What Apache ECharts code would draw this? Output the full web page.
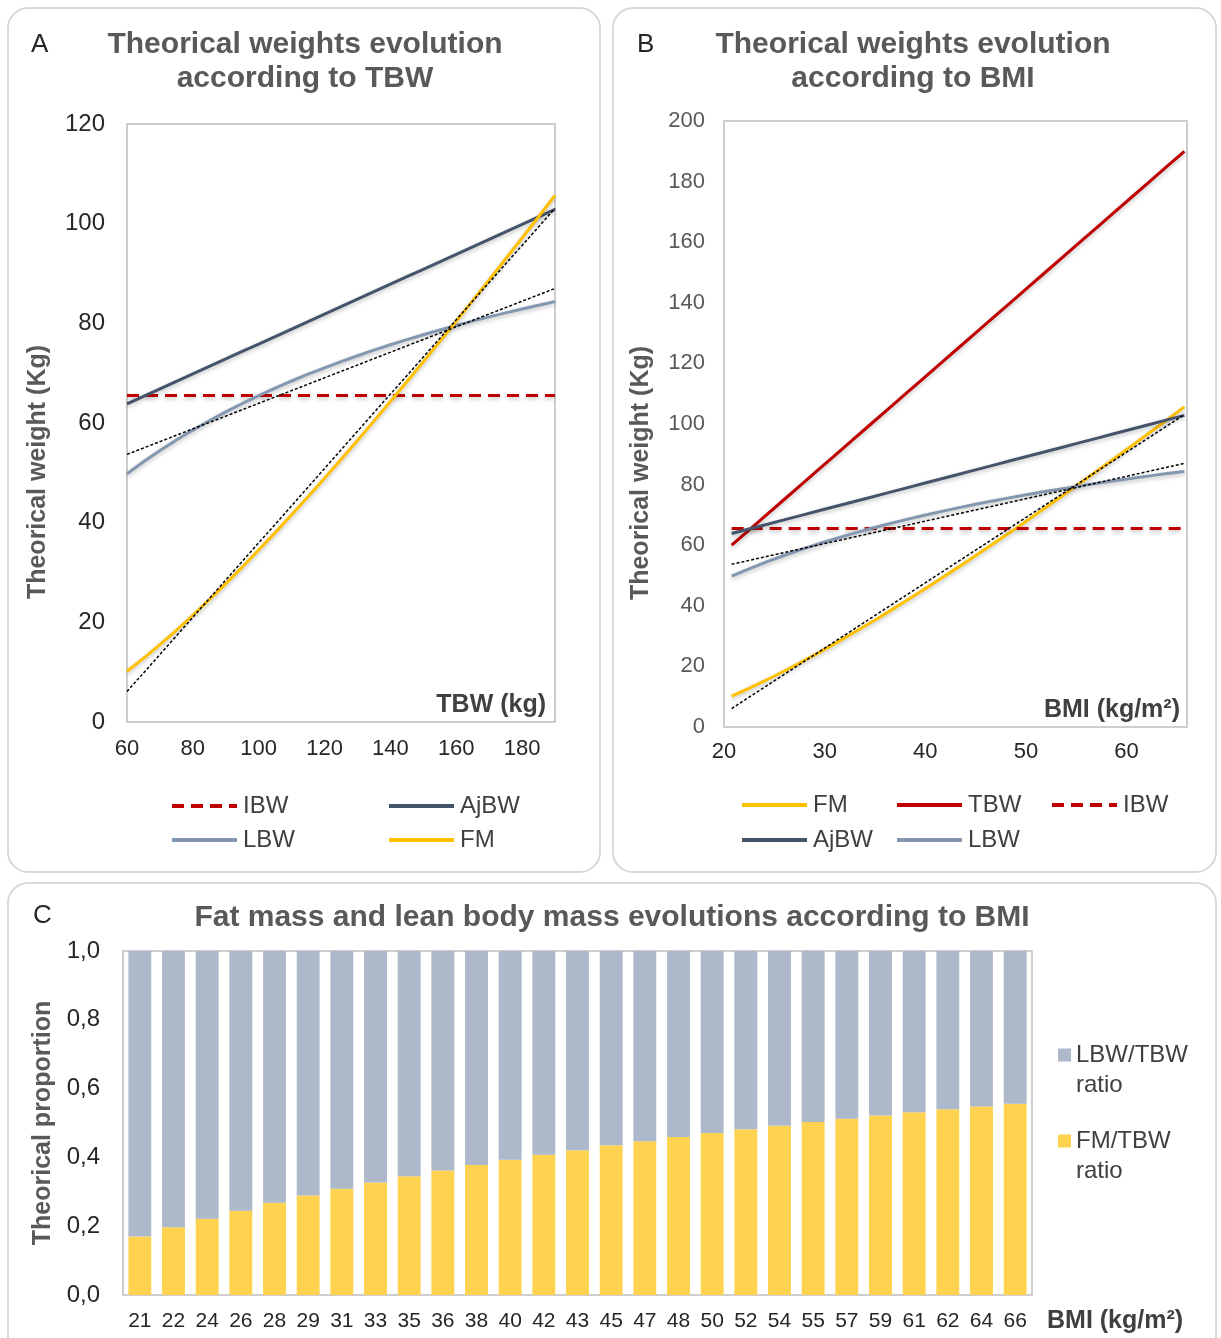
<!DOCTYPE html>
<html><head><meta charset="utf-8">
<script src="https://cdn.jsdelivr.net/npm/echarts@6/dist/echarts.min.js"></script>
<style>html,body{margin:0;padding:0;background:#fff}#main{width:1221px;height:1338px}</style>
</head><body><div id="main"></div>
<script>
// ---- data ----
const tbwValues = [60,65,70,75,80,85,90,95,100,105,110,115,120,125,130,135,140,145,150,155,160,165,170,175,180,185,190];
const bmiValues = [20.76,22.49,24.22,25.95,27.68,29.41,31.14,32.87,34.60,36.33,38.06,39.79,41.52,43.25,44.98,46.71,48.44,50.17,51.90,53.63,55.36,57.09,58.82,60.55,62.28,64.01,65.74];
const ibwValues = [65.5,65.5,65.5,65.5,65.5,65.5,65.5,65.5,65.5,65.5,65.5,65.5,65.5,65.5,65.5,65.5,65.5,65.5,65.5,65.5,65.5,65.5,65.5,65.5,65.5,65.5,65.5];
const ajbwValues = [63.85,65.35,66.85,68.35,69.85,71.35,72.85,74.35,75.85,77.35,78.85,80.35,81.85,83.35,84.85,86.35,87.85,89.35,90.85,92.35,93.85,95.35,96.85,98.35,99.85,101.35,102.85];
const lbwValues = [49.82,52.22,54.48,56.59,58.58,60.46,62.23,63.91,65.49,67.00,68.43,69.79,71.08,72.32,73.50,74.62,75.70,76.73,77.72,78.67,79.58,80.45,81.29,82.10,82.88,83.63,84.35];
const fmValues = [10.18,12.78,15.52,18.41,21.42,24.54,27.77,31.09,34.51,38.00,41.57,45.21,48.92,52.68,56.50,60.38,64.30,68.27,72.28,76.33,80.42,84.55,88.71,92.90,97.12,101.37,105.65];
// trendline end values (read at first / last x)
const lbwTrendEnds = [53.7, 87.0];
const fmTrendEnds = [6.1, 103.1];
// panel C
const bmiCategories = ['21','22','24','26','28','29','31','33','35','36','38','40','42','43','45','47','48','50','52','54','55','57','59','61','62','64','66'];
const fmRatio = [0.170,0.197,0.222,0.245,0.268,0.289,0.309,0.327,0.345,0.362,0.378,0.393,0.408,0.421,0.435,0.447,0.459,0.471,0.482,0.492,0.503,0.512,0.522,0.531,0.540,0.548,0.556];
const lbwRatio = [0.830,0.803,0.778,0.755,0.732,0.711,0.691,0.673,0.655,0.638,0.622,0.607,0.592,0.579,0.565,0.553,0.541,0.529,0.518,0.508,0.497,0.488,0.478,0.469,0.460,0.452,0.444];

// ---- styling ----
const FONT = "'Liberation Sans', Arial, sans-serif";
const C_IBW = '#C00000', C_TBW = '#C00000', C_AJ = '#44546A', C_LBW = '#8497B0', C_FM = '#FFC000';
const shadow = {shadowBlur: 4, shadowColor: 'rgba(0,0,0,0.25)', shadowOffsetY: 2};

function pairs(xs, ys) { return xs.map((x, i) => [x, ys[i]]); }
function ends(xs, e) { return [[xs[0], e[0]], [xs[xs.length - 1], e[1]]]; }

function lineSeries(name, idx, xs, ys, color, dash) {
  return {
    name: name, type: 'line', xAxisIndex: idx, yAxisIndex: idx,
    data: pairs(xs, ys), symbol: 'none', smooth: false, color: color,
    lineStyle: Object.assign({color: color, width: 3, type: dash || 'solid'}, shadow),
    emphasis: {disabled: true}
  };
}
function trendSeries(idx, xs, e) {
  return {
    name: 'trend', type: 'line', xAxisIndex: idx, yAxisIndex: idx, silent: true,
    data: ends(xs, e), symbol: 'none', color: '#000',
    lineStyle: {color: '#000', width: 1.5, type: [3, 2]}, z: 5,
    emphasis: {disabled: true}
  };
}
function legendItem(name, left, top) {
  return {
    left: left, top: top, padding: 0, itemWidth: 65, itemHeight: 14, itemGap: 0,
    selectedMode: false, data: [name],
    itemStyle: {opacity: 0},
    lineStyle: {width: 4, shadowBlur: 0, shadowOffsetY: 0, shadowColor: 'transparent'},
    textStyle: {fontSize: 24, color: '#404040', fontFamily: FONT, padding: [0, 0, 0, 1]}
  };
}
function boxLegend(name, top) {
  return {
    left: 1058, top: top, padding: 0, itemWidth: 13, itemHeight: 13, itemGap: 0,
    icon: 'rect', selectedMode: false, data: [name],
    formatter: function (n) { return '\n' + n.replace(' ', '\n'); },
    textStyle: {fontSize: 24, color: '#404040', fontFamily: FONT, lineHeight: 30, padding: [0, 0, 0, 0]}
  };
}
function titleText(text, left, top, size, weight, color, align, lh) {
  const t = {text: text, left: left, top: top, padding: 0,
    textStyle: {fontSize: size, fontWeight: weight, color: color, fontFamily: FONT}};
  if (align) t.textAlign = align;
  if (lh) t.textStyle.lineHeight = lh;
  return t;
}
const yNameAB = {fontSize: 25, fontWeight: 'bold', color: '#595959', fontFamily: FONT, padding: [0, 98, 0, 0]};
const yNameC = {fontSize: 25, fontWeight: 'bold', color: '#595959', fontFamily: FONT};

const chart = echarts.init(document.getElementById('main'), null, {renderer: 'canvas'});
chart.setOption({
  animation: false,
  backgroundColor: '#ffffff',
  textStyle: {fontFamily: FONT},
  graphic: [
    {type: 'rect', z: -10, silent: true, shape: {x: 8, y: 8, width: 592, height: 864, r: 20},
      style: {fill: '#fff', stroke: '#D9D9D9', lineWidth: 2}},
    {type: 'rect', z: -10, silent: true, shape: {x: 613, y: 8, width: 603, height: 864, r: 20},
      style: {fill: '#fff', stroke: '#D9D9D9', lineWidth: 2}},
    {type: 'rect', z: -10, silent: true, shape: {x: 8, y: 883, width: 1208, height: 480, r: 20},
      style: {fill: '#fff', stroke: '#D9D9D9', lineWidth: 2}}
  ],
  title: [
    titleText('A', 31, 32, 26, 'normal', '#262626'),
    titleText('Theorical weights evolution\naccording to TBW', 305, 28, 30, 'bold', '#595959', 'center', 34),
    titleText('B', 637, 32, 26, 'normal', '#262626'),
    titleText('Theorical weights evolution\naccording to BMI', 913, 28, 30, 'bold', '#595959', 'center', 34),
    titleText('C', 33, 903, 26, 'normal', '#262626'),
    titleText('Fat mass and lean body mass evolutions according to BMI', 612, 903, 30, 'bold', '#595959', 'center'),
    titleText('TBW (kg)', 546, 693, 25, 'bold', '#404040', 'right'),
    titleText('BMI (kg/m²)', 1180, 698, 25, 'bold', '#404040', 'right'),
    titleText('BMI (kg/m²)', 1047, 1309, 25, 'bold', '#404040')
  ],
  legend: [
    legendItem('IBW', 170, 794), legendItem('AjBW', 387, 794),
    legendItem('LBW', 170, 828), legendItem('FM', 387, 828),
    legendItem('FM', 740, 793), legendItem('TBW', 895, 793), legendItem('IBW', 1050, 793),
    legendItem('AjBW', 740, 828), legendItem('LBW', 895, 828),
    boxLegend('LBW/TBW ratio', 1010),
    boxLegend('FM/TBW ratio', 1096)
  ],
  grid: [
    {left: 127, top: 124, width: 428, height: 598, show: true, borderColor: '#BFBFBF', borderWidth: 1.5, backgroundColor: 'transparent'},
    {left: 724, top: 121, width: 463, height: 606, show: true, borderColor: '#BFBFBF', borderWidth: 1.5, backgroundColor: 'transparent'},
    {left: 123, top: 951, width: 909, height: 344, show: true, borderColor: '#BFBFBF', borderWidth: 1.5, backgroundColor: 'transparent'}
  ],
  xAxis: [
    {type: 'value', gridIndex: 0, min: 60, max: 190, interval: 20,
      axisLine: {show: false}, axisTick: {show: false}, splitLine: {show: false},
      axisLabel: {showMaxLabel: false, fontSize: 22, color: '#262626', margin: 16, fontFamily: FONT}},
    {type: 'value', gridIndex: 1, min: 20, max: 66, interval: 10,
      axisLine: {show: false}, axisTick: {show: false}, splitLine: {show: false},
      axisLabel: {showMaxLabel: false, fontSize: 22, color: '#262626', margin: 14, fontFamily: FONT}},
    {type: 'category', gridIndex: 2, data: bmiCategories,
      axisLine: {show: false}, axisTick: {show: false}, splitLine: {show: false},
      axisLabel: {interval: 0, fontSize: 21, color: '#262626', margin: 16, fontFamily: FONT}}
  ],
  yAxis: [
    {type: 'value', gridIndex: 0, min: 0, max: 120, interval: 20,
      axisLine: {show: false}, axisTick: {show: false}, splitLine: {show: false},
      axisLabel: {fontSize: 24, color: '#262626', margin: 22, fontFamily: FONT},
      name: 'Theorical weight (Kg)', nameLocation: 'middle', nameGap: 76, nameTextStyle: yNameAB},
    {type: 'value', gridIndex: 1, min: 0, max: 200, interval: 20,
      axisLine: {show: false}, axisTick: {show: false}, splitLine: {show: false},
      axisLabel: {fontSize: 22, color: '#595959', margin: 19, fontFamily: FONT},
      name: 'Theorical weight (Kg)', nameLocation: 'middle', nameGap: 70, nameTextStyle: yNameAB},
    {type: 'value', gridIndex: 2, min: 0, max: 1, interval: 0.2,
      axisLine: {show: false}, axisTick: {show: false}, splitLine: {show: false},
      axisLabel: {fontSize: 24, color: '#262626', margin: 23, fontFamily: FONT,
        formatter: function (v) { return v.toFixed(1).replace('.', ','); }},
      name: 'Theorical proportion', nameLocation: 'middle', nameGap: 64, nameTextStyle: yNameC}
  ],
  series: [
    lineSeries('IBW', 0, tbwValues, ibwValues, C_IBW, [12, 7]),
    lineSeries('AjBW', 0, tbwValues, ajbwValues, C_AJ),
    lineSeries('LBW', 0, tbwValues, lbwValues, C_LBW),
    lineSeries('FM', 0, tbwValues, fmValues, C_FM),
    trendSeries(0, tbwValues, lbwTrendEnds),
    trendSeries(0, tbwValues, fmTrendEnds),

    lineSeries('FM', 1, bmiValues, fmValues, C_FM),
    lineSeries('TBW', 1, bmiValues, tbwValues, C_TBW),
    lineSeries('IBW', 1, bmiValues, ibwValues, C_IBW, [12, 7]),
    lineSeries('AjBW', 1, bmiValues, ajbwValues, C_AJ),
    lineSeries('LBW', 1, bmiValues, lbwValues, C_LBW),
    trendSeries(1, bmiValues, lbwTrendEnds),
    trendSeries(1, bmiValues, fmTrendEnds),

    {name: 'FM/TBW ratio', type: 'bar', xAxisIndex: 2, yAxisIndex: 2, stack: 'ratio',
      data: fmRatio, barWidth: '68%', color: '#FFD34F', itemStyle: {color: '#FFD34F'}, emphasis: {disabled: true}},
    {name: 'LBW/TBW ratio', type: 'bar', xAxisIndex: 2, yAxisIndex: 2, stack: 'ratio',
      data: lbwRatio, barWidth: '68%', color: '#ADB9CA', itemStyle: {color: '#ADB9CA'}, emphasis: {disabled: true}}
  ]
});
</script>
</body></html>
